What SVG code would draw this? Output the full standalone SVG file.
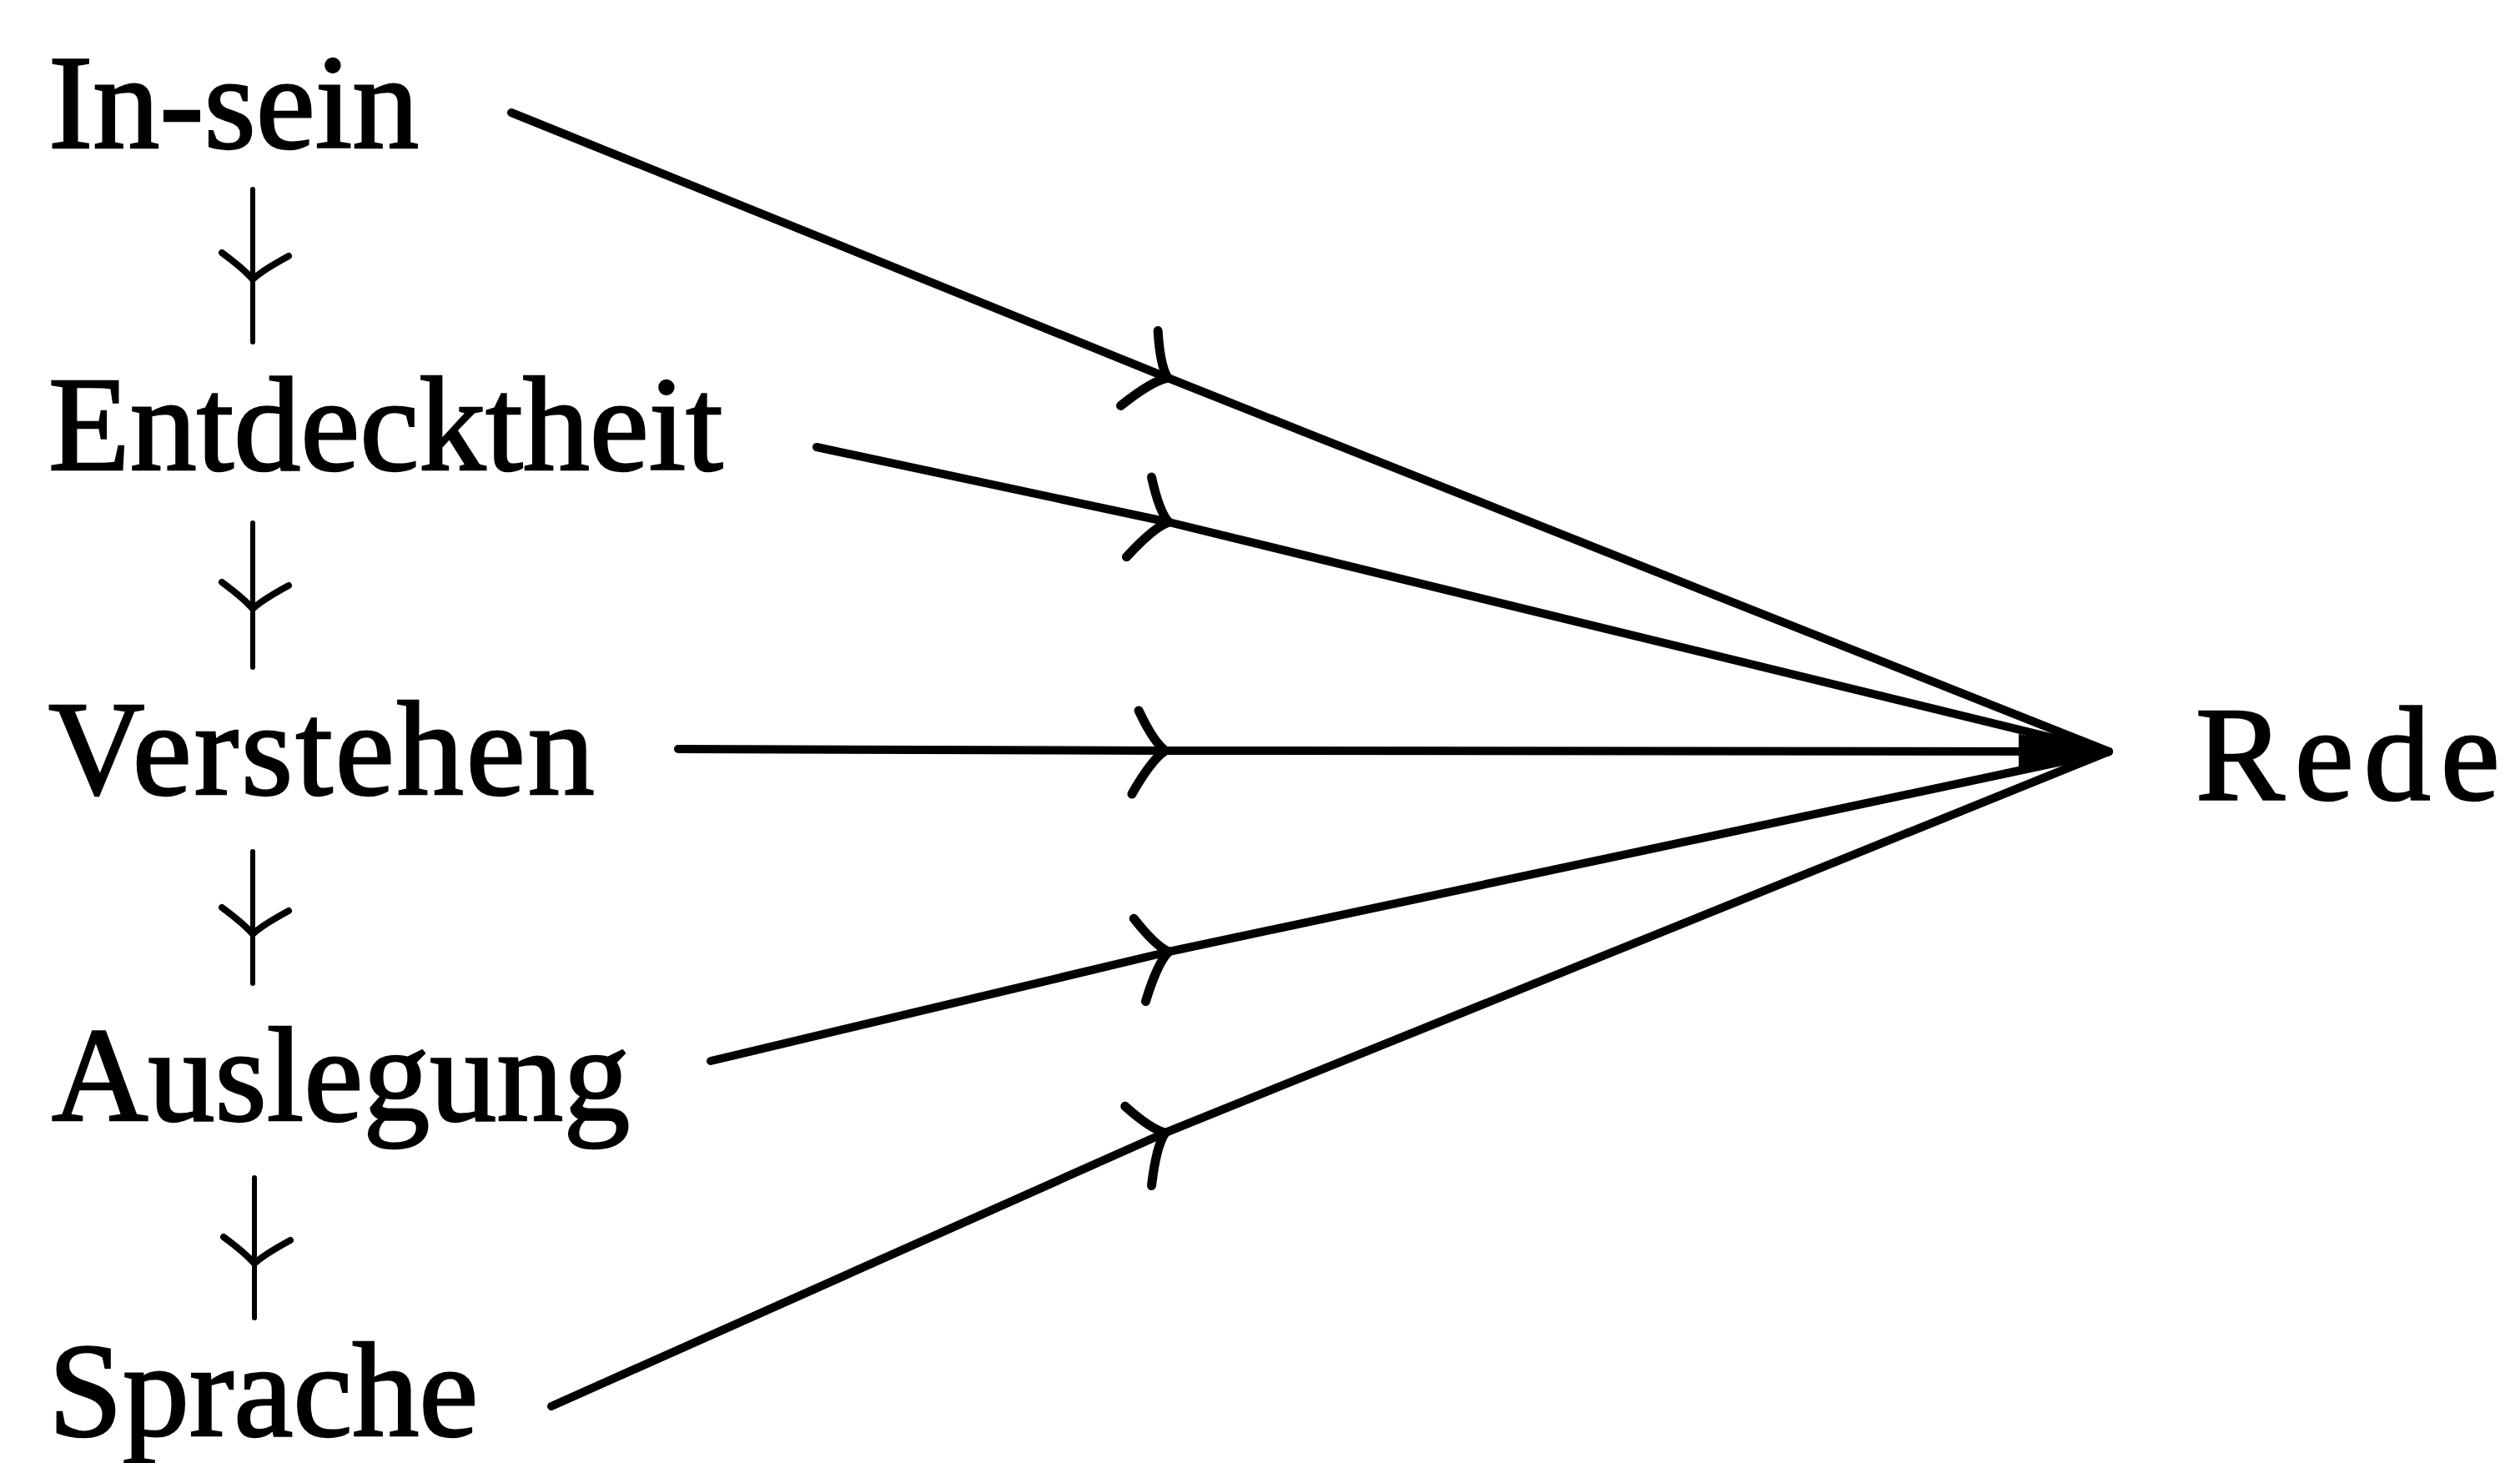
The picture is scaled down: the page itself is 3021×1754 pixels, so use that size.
<svg xmlns="http://www.w3.org/2000/svg" width="3021" height="1754" viewBox="0 0 3021 1754">
<style>
.t{font-family:"Liberation Serif","Times New Roman",serif;font-size:160px;fill:#000;stroke:#000;stroke-width:2.5}
.c{fill:none;stroke:#000;stroke-width:10;stroke-linecap:round;stroke-linejoin:round}
.v{fill:none;stroke:#000;stroke-width:6;stroke-linecap:round}
</style>
<defs>
<marker id="ah" markerUnits="userSpaceOnUse" orient="auto" markerWidth="140" markerHeight="140" refX="70" refY="70" viewBox="0 0 140 140" overflow="visible">
<path d="M38 22 Q56 60 70 70 Q54 80 30 122" fill="none" stroke="#000" stroke-width="11" stroke-linecap="round" stroke-linejoin="round"/>
</marker>
<marker id="vh" markerUnits="userSpaceOnUse" orient="auto" markerWidth="100" markerHeight="100" refX="50" refY="50" viewBox="0 0 100 100" overflow="visible">
<path d="M22 7 Q40 40 50 50 Q38 60 18 87" fill="none" stroke="#000" stroke-width="8" stroke-linecap="round" stroke-linejoin="round"/>
</marker>
</defs>
<rect width="3021" height="1754" fill="#fff"/>
<g id="node-in-sein"><text class="t" x="58" y="177">In-sein</text></g>
<g id="node-entdecktheit"><text class="t" x="58" y="563">Entdecktheit</text></g>
<g id="node-verstehen"><text class="t" x="58" y="952" letter-spacing="3">Verstehen</text></g>
<g id="node-auslegung"><text class="t" x="62" y="1343">Auslegung</text></g>
<g id="node-sprache"><text class="t" x="58" y="1721">Sprache</text></g>
<g id="node-rede"><text class="t" x="2632" y="958" letter-spacing="12">Rede</text></g>
<g id="connectors">
<polyline class="v" points="303,227 303,335 303,410" marker-mid="url(#vh)"/>
<polyline class="v" points="303,627 303,730 303,800" marker-mid="url(#vh)"/>
<polyline class="v" points="303,1021 303,1120 303,1179" marker-mid="url(#vh)"/>
<polyline class="v" points="305,1412 305,1515 305,1580" marker-mid="url(#vh)"/>
<polyline class="c" points="613,135 1400,453 2528,901" marker-mid="url(#ah)"/>
<polyline class="c" points="979,536 1401,626 2528,901" marker-mid="url(#ah)"/>
<polyline class="c" points="813,898 1397,900 2528,901" marker-mid="url(#ah)"/>
<polyline class="c" points="852,1272 1401,1141 2528,901" marker-mid="url(#ah)"/>
<polyline class="c" points="661,1686 1397,1358 2528,901" marker-mid="url(#ah)"/>
<path d="M2420 880 L2534 901 L2420 922 Z" fill="#000"/>
</g>
</svg>
